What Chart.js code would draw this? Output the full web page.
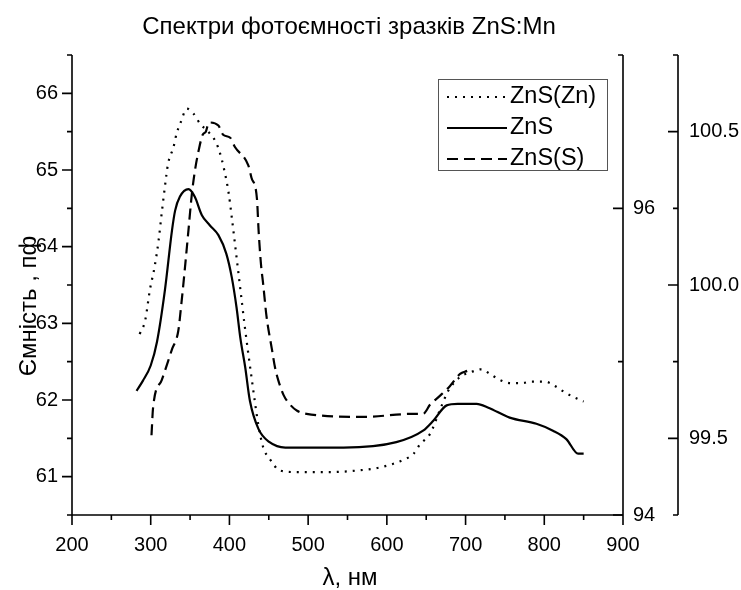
<!DOCTYPE html>
<html>
<head>
<meta charset="utf-8">
<script src="https://cdn.jsdelivr.net/npm/chart.js@4.4.0/dist/chart.umd.min.js"></script>
<style>
  body { margin: 0; background: #fff; }
</style>
</head>
<body>
<canvas id="myChart" width="741" height="590"></canvas>
<script>
// ZnS, left axis (pF)
var znsX = [282, 290, 300, 308, 318, 327, 331, 337, 348, 356, 365, 375, 386, 396, 403, 409, 414, 420, 426, 437, 451, 471, 545, 612, 646, 659, 676, 690, 714, 729, 756, 790, 811, 828, 843, 850];
var znsY = [62.12, 62.25, 62.45, 62.76, 63.43, 64.21, 64.47, 64.65, 64.75, 64.65, 64.41, 64.28, 64.15, 63.91, 63.60, 63.21, 62.80, 62.43, 61.99, 61.62, 61.45, 61.38, 61.38, 61.45, 61.60, 61.73, 61.93, 61.95, 61.95, 61.90, 61.77, 61.69, 61.60, 61.49, 61.30, 61.30];

// ZnS(Zn), first right axis
var znsZnX = [286, 293, 299, 305, 310, 314, 318, 322, 329, 333, 338, 346, 354, 363, 373, 383, 388, 393, 399, 403, 407, 410, 413, 416, 419, 428, 437, 443, 452, 464, 486, 528, 562, 591, 621, 634, 642, 655, 667, 678, 693, 706, 720, 731, 744, 757, 771, 784, 801, 814, 826, 837, 850];
var znsZnY = [95.18, 95.27, 95.47, 95.62, 95.79, 95.97, 96.14, 96.29, 96.40, 96.49, 96.56, 96.65, 96.62, 96.55, 96.50, 96.43, 96.36, 96.26, 96.10, 95.94, 95.77, 95.64, 95.51, 95.38, 95.25, 94.90, 94.58, 94.44, 94.36, 94.29, 94.28, 94.28, 94.29, 94.31, 94.36, 94.40, 94.46, 94.53, 94.68, 94.81, 94.90, 94.93, 94.95, 94.92, 94.88, 94.86, 94.86, 94.87, 94.87, 94.84, 94.80, 94.77, 94.74];

// ZnS(S), second right axis
var znsSX = [301, 303, 314, 327, 335, 339, 344, 348, 352, 356, 361, 366, 370, 374, 386, 392, 401, 407, 424, 428, 435, 437, 440, 443, 447, 454, 458, 462, 469, 477, 486, 498, 570, 634, 646, 655, 668, 680, 693, 702];
var znsSY = [99.51, 99.60, 99.69, 99.79, 99.85, 99.94, 100.07, 100.18, 100.29, 100.37, 100.44, 100.49, 100.50, 100.53, 100.52, 100.49, 100.48, 100.45, 100.39, 100.35, 100.28, 100.18, 100.07, 100.00, 99.90, 99.79, 99.73, 99.69, 99.64, 99.61, 99.59, 99.58, 99.57, 99.58, 99.58, 99.61, 99.64, 99.67, 99.71, 99.72];

var xTicks = [200, 300, 400, 500, 600, 700, 800, 900];
var yTicks = [61, 62, 63, 64, 65, 66];
var y2Ticks = [94, 96];
var y3Ticks = [99.5, 100.0, 100.5];

var FONT = '"Liberation Sans", Arial, sans-serif';

function pts(xs, ys) {
  return xs.map(function (v, i) { return { x: v, y: ys[i] }; });
}

function fixTicks(list) {
  return function (scale) {
    scale.ticks = list.map(function (v) { return { value: v }; });
  };
}

// axis lines with Origin-style major/minor ticks
function drawAxis(ctx, scale, x0, y0, x1, y1, step, majors, dir, vertical) {
  ctx.beginPath();
  ctx.moveTo(x0, y0);
  ctx.lineTo(x1, y1);
  for (var v = scale.min; v <= scale.max + 1e-9; v += step) {
    var major = majors.some(function (m) { return Math.abs(m - v) < 1e-6; });
    var len = major ? 10 : 5;
    var p = scale.getPixelForValue(v);
    if (vertical) {
      ctx.moveTo(x0, p);
      ctx.lineTo(x0 + dir * len, p);
    } else {
      ctx.moveTo(p, y0);
      ctx.lineTo(p, y0 + dir * len);
    }
  }
  ctx.stroke();
}

var decorPlugin = {
  id: 'decor',
  afterDraw: function (chart) {
    var ctx = chart.ctx;
    var a = chart.chartArea;
    var s = chart.scales;
    ctx.save();
    ctx.strokeStyle = '#000';
    ctx.lineWidth = 1.6;
    drawAxis(ctx, s.x, a.left, a.bottom, a.right, a.bottom, 50, xTicks, 1, false);
    drawAxis(ctx, s.y, a.left, a.top, a.left, a.bottom, 0.5, yTicks, -1, true);
    drawAxis(ctx, s.y2, a.right, a.top, a.right, a.bottom, 1, y2Ticks, -1, true);
    drawAxis(ctx, s.y3, s.y3.left, a.top, s.y3.left, a.bottom, 0.25, y3Ticks, -1, true);

    // titles
    ctx.fillStyle = '#000';
    ctx.textAlign = 'center';
    ctx.textBaseline = 'middle';
    ctx.font = '24px ' + FONT;
    ctx.fillText('Спектри фотоємності зразків ZnS:Mn', 349, 27);
    ctx.fillText('λ, нм', 350, 578);
    ctx.save();
    ctx.translate(29, 306);
    ctx.rotate(-Math.PI / 2);
    ctx.fillText('Ємність , пф', 0, 0);
    ctx.restore();

    // legend box
    ctx.lineWidth = 1;
    ctx.strokeStyle = '#555';
    ctx.strokeRect(438.5, 79.5, 169, 91);
    ctx.textAlign = 'left';
    ctx.font = '23.5px ' + FONT;
    chart.data.datasets.forEach(function (ds, i) {
      var yy = 97 + i * 31;
      ctx.strokeStyle = '#000';
      ctx.lineWidth = ds.borderWidth;
      ctx.setLineDash(ds.borderDash || []);
      ctx.beginPath();
      ctx.moveTo(447, yy);
      ctx.lineTo(507, yy);
      ctx.stroke();
      ctx.setLineDash([]);
      ctx.fillText(ds.label, 510, yy);
    });
    ctx.restore();
  }
};

var ctx = document.getElementById('myChart').getContext('2d');
var myChart = new Chart(ctx, {
  type: 'line',
  data: {
    datasets: [{
      label: 'ZnS(Zn)',
      data: pts(znsZnX, znsZnY),
      yAxisID: 'y2',
      borderColor: '#000',
      borderWidth: 2.2,
      borderDash: [2, 6],
      pointRadius: 0,
      cubicInterpolationMode: 'monotone',
      fill: false
    }, {
      label: 'ZnS',
      data: pts(znsX, znsY),
      yAxisID: 'y',
      borderColor: '#000',
      borderWidth: 2.2,
      pointRadius: 0,
      cubicInterpolationMode: 'monotone',
      fill: false
    }, {
      label: 'ZnS(S)',
      data: pts(znsSX, znsSY),
      yAxisID: 'y3',
      borderColor: '#000',
      borderWidth: 2.2,
      borderDash: [11, 6],
      pointRadius: 0,
      cubicInterpolationMode: 'monotone',
      fill: false
    }]
  },
  options: {
    responsive: false,
    animation: false,
    devicePixelRatio: 1,
    layout: { padding: { top: 55, left: 0, right: 0, bottom: 0 } },
    plugins: {
      legend: { display: false },
      title: { display: false },
      tooltip: { enabled: false }
    },
    scales: {
      x: {
        type: 'linear',
        min: 200,
        max: 900,
        afterBuildTicks: fixTicks(xTicks),
        afterFit: function (sc) { sc.height = 75; },
        grid: { display: false, drawTicks: false },
        border: { display: false },
        ticks: { color: '#000', padding: 18, maxRotation: 0, font: { family: FONT, size: 20 } }
      },
      y: {
        position: 'left',
        min: 60.5,
        max: 66.5,
        afterBuildTicks: fixTicks(yTicks),
        afterFit: function (sc) { sc.width = 72; },
        grid: { display: false, drawTicks: false },
        border: { display: false },
        ticks: { color: '#000', padding: 14, font: { family: FONT, size: 20 } }
      },
      y2: {
        position: 'right',
        min: 94,
        max: 97,
        afterBuildTicks: fixTicks(y2Ticks),
        afterFit: function (sc) { sc.width = 55; },
        grid: { display: false, drawTicks: false },
        border: { display: false },
        ticks: { color: '#000', padding: 10, font: { family: FONT, size: 20 } }
      },
      y3: {
        position: 'right',
        min: 99.25,
        max: 100.75,
        afterBuildTicks: fixTicks(y3Ticks),
        afterFit: function (sc) { sc.width = 63; },
        grid: { display: false, drawTicks: false },
        border: { display: false },
        ticks: {
          color: '#000',
          padding: 11,
          font: { family: FONT, size: 20 },
          callback: function (v) { return Number(v).toFixed(1); }
        }
      }
    }
  },
  plugins: [decorPlugin]
});
</script>
</body>
</html>
